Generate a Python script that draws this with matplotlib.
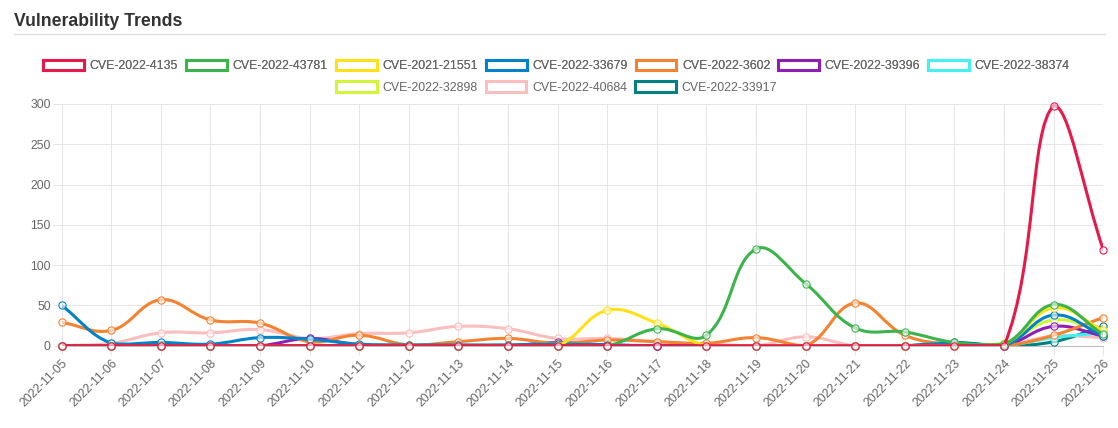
import numpy as np
import matplotlib
matplotlib.use("Agg")
from matplotlib import pyplot as plt
from matplotlib.path import Path
from matplotlib.patches import PathPatch, Rectangle
from matplotlib.lines import Line2D

plt.rcParams['font.family'] = ['Liberation Sans', 'DejaVu Sans']

# DATA
dates = ['2022-11-%02d' % d for d in range(5, 27)]
series_names = ['CVE-2022-4135', 'CVE-2022-43781', 'CVE-2021-21551', 'CVE-2022-33679',
                'CVE-2022-3602', 'CVE-2022-39396', 'CVE-2022-38374', 'CVE-2022-32898',
                'CVE-2022-40684', 'CVE-2022-33917']
cve_4135 = [0, 0, 0, 0, 0, 0, 0, 0, 0, 0, 0, 0, 0, 0, 0, 0, 0, 0, 0, 0, 298, 119]
cve_43781 = [0, 0, 0, 0, 0, 0, 0, 0, 0, 0, 0, 0, 21, 13, 120, 77, 22, 17, 4, 2, 51, 14]
cve_21551 = [0, 0, 0, 0, 0, 0, 0, 0, 0, 0, 0, 44, 28, 0, 0, 0, 0, 0, 0, 2, 47, 19]
cve_33679 = [50, 3, 4, 2, 10, 8, 2, 1, 1, 1, 2, 1, 0, 0, 0, 0, 0, 0, 3, 0, 38, 12]
cve_3602 = [29, 19, 57, 32, 28, 5, 13, 1, 5, 9, 3, 7, 5, 3, 10, 0, 53, 13, 1, 0, 13, 35]
cve_39396 = [0, 0, 0, 0, 0, 9, 1, 0, 0, 0, 4, 1, 0, 0, 0, 0, 0, 0, 0, 0, 24, 12]
cve_38374 = [0, 0, 0, 0, 0, 0, 0, 0, 0, 0, 0, 0, 0, 0, 0, 0, 0, 0, 0, 0, 10, 16]
cve_32898 = [0, 0, 0, 0, 0, 0, 0, 0, 0, 0, 0, 0, 0, 0, 0, 0, 0, 0, 0, 3, 32, 17]
cve_40684 = [0, 3, 16, 16, 20, 9, 15, 16, 24, 21, 9, 9, 5, 2, 0, 11, 0, 0, 0, 0, 12, 10]
cve_33917 = [0, 0, 0, 0, 0, 0, 0, 0, 0, 0, 0, 0, 0, 0, 0, 0, 0, 0, 4, 0, 5, 24]
colors = ['#e6194b', '#3cb44b', '#ffe119', '#0082c8', '#f58231',
          '#911eb4', '#46f0f0', '#d2f53c', '#fabebe', '#008080']
yticks = [0, 50, 100, 150, 200, 250, 300]

all_series = [cve_4135, cve_43781, cve_21551, cve_33679, cve_3602,
              cve_39396, cve_38374, cve_32898, cve_40684, cve_33917]

W, H = 1118, 428
fig = plt.figure(figsize=(W / 100, H / 100), dpi=100)
ax = fig.add_axes([61.7 / W, (H - 345.7) / H, (1103.3 - 61.7) / W, (345.7 - 104) / H])
x = np.arange(len(dates))
ax.set_xlim(0, len(dates) - 1)
ax.set_ylim(0, 300)


def spline_path(xs, ys, tension=0.4):
    # chart.js style bezier (computed in pixel space), control points capped to area
    pts = ax.transData.transform(np.column_stack([xs, ys]))
    bb = ax.get_window_extent()
    n = len(pts)
    cprev = np.zeros_like(pts)
    cnext = np.zeros_like(pts)
    for i in range(n):
        cur = pts[i]
        prev = pts[i - 1] if i > 0 else cur
        nxt = pts[i + 1] if i < n - 1 else cur
        d01 = np.hypot(*(cur - prev))
        d12 = np.hypot(*(nxt - cur))
        tot = d01 + d12
        s01 = d01 / tot if tot > 0 else 0
        s12 = d12 / tot if tot > 0 else 0
        cprev[i] = cur - tension * s01 * (nxt - prev)
        cnext[i] = cur + tension * s12 * (nxt - prev)
    for c in (cprev, cnext):
        c[:, 0] = np.clip(c[:, 0], bb.x0, bb.x1)
        c[:, 1] = np.clip(c[:, 1], bb.y0, bb.y1)
    verts = [pts[0]]
    codes = [Path.MOVETO]
    for i in range(n - 1):
        verts += [cnext[i], cprev[i + 1], pts[i + 1]]
        codes += [Path.CURVE4] * 3
    verts = ax.transData.inverted().transform(np.array(verts))
    return Path(verts, codes)


N = len(all_series)
for i, (vals, col) in enumerate(zip(all_series, colors)):
    z = 10 + (N - i) * 2
    ax.add_patch(PathPatch(spline_path(x, vals), facecolor='none', edgecolor=col,
                           lw=2.2, zorder=z, capstyle='round', joinstyle='round'))
    ax.plot(x, vals, 'o', ms=5.2, mec=col, mew=0.8, mfc=(1, 1, 1, 0.6),
            zorder=z + 1, clip_on=False)

# axes styling
grid_col = '#e6e6e6'
ax.set_xticks(x)
ax.set_xticklabels(dates, rotation=45, ha='right', va='top', rotation_mode='anchor')
ax.set_yticks(yticks)
ax.grid(True, color=grid_col, lw=0.75)
ax.set_axisbelow(True)
for s in ['top', 'right']:
    ax.spines[s].set_visible(False)
ax.spines['left'].set_color(grid_col)
ax.spines['left'].set_linewidth(0.75)
ax.spines['bottom'].set_color('#bfbfbf')
ax.spines['bottom'].set_linewidth(0.75)
ax.tick_params(axis='both', colors=grid_col, labelcolor='#666666', labelsize=8.8,
               length=6.3, width=0.75)
ax.tick_params(axis='x', pad=2.2)
ax.tick_params(axis='y', pad=1.5)

# title and separator
fig.text(14 / W, (H - 26) / H, 'Vulnerability Trends', fontsize=12.7, fontweight='bold',
         color='#333333', va='baseline', ha='left')
fig.add_artist(Line2D([14 / W, 1105 / W], [(H - 33.7) / H] * 2, color='#dddddd', lw=0.9))

# legend, two centred rows
handles = [Rectangle((0, 0), 1, 1, facecolor='white', edgecolor=c, lw=2.2) for c in colors]
leg_kw = dict(loc='center', frameon=False, fontsize=8.9, handlelength=3.3, handleheight=0.95,
              handletextpad=0.45, columnspacing=0.65, borderpad=0, labelcolor='#666666')
leg1 = fig.legend(handles[:7], series_names[:7], ncol=7,
                  bbox_to_anchor=(556.5 / W, (H - 66) / H), **leg_kw)
fig.add_artist(leg1)
fig.legend(handles[7:], series_names[7:], ncol=3,
           bbox_to_anchor=(556.5 / W, (H - 87.7) / H), **leg_kw)

fig.savefig('out.png', dpi=100)
